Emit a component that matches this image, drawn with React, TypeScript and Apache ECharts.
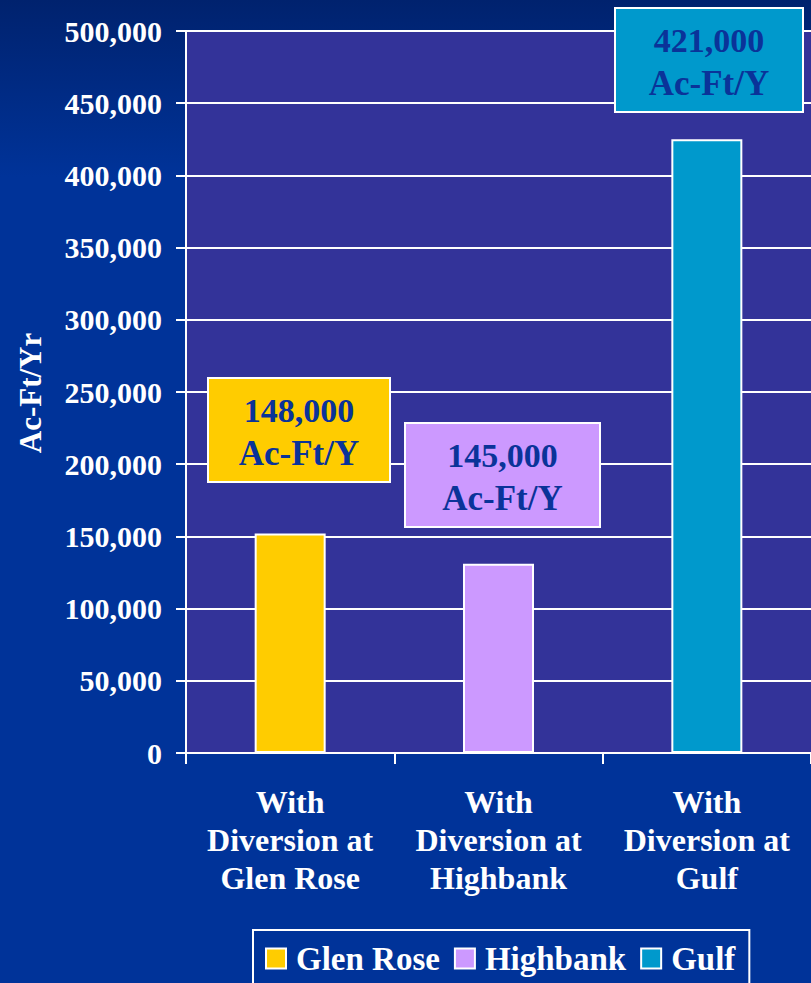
import React, { useEffect, useRef } from "react";
import * as echarts from "echarts";

const categories = [
  "With\nDiversion at\nGlen Rose",
  "With\nDiversion at\nHighbank",
  "With\nDiversion at\nGulf",
];
const seriesNames = ["Glen Rose", "Highbank", "Gulf"];
const barValues = [152000, 131000, 425000];
const calloutValues = ["148,000", "145,000", "421,000"];
const calloutUnit = "Ac-Ft/Y";
const barColors = ["#FFCC00", "#CC99FF", "#0099CC"];
const yTicks = { min: 0, max: 500000, interval: 50000 };
const yAxisTitle = "Ac-Ft/Yr";

const FONT = "'Liberation Serif', 'Times New Roman', serif";

export default function App() {
  const ref = useRef<HTMLDivElement>(null);
  useEffect(() => {
    if (!ref.current) return;
    const chart = echarts.init(ref.current, null, { renderer: "svg" });

    const series = seriesNames.map((name, i) => ({
      name,
      type: "bar",
      stack: "all",
      barWidth: 71,
      data: categories.map((_, j) => (j === i ? barValues[i] : "-")),
      itemStyle: { color: barColors[i], borderColor: "#FFFFFF", borderWidth: 2 },
    }));

    // callout boxes (annotation positions)
    const boxes = [
      { x: 208, y: 378, w: 182, h: 104 },
      { x: 405, y: 423, w: 195, h: 104 },
      { x: 615, y: 8, w: 188, h: 104 },
    ];
    const graphics: any[] = [];
    boxes.forEach((b, i) => {
      graphics.push({
        type: "rect",
        shape: { x: b.x, y: b.y, width: b.w, height: b.h },
        style: { fill: barColors[i], stroke: "#FFFFFF", lineWidth: 2 },
        z: 10,
      });
      graphics.push({
        type: "text",
        x: b.x + b.w / 2,
        y: b.y + 32,
        style: {
          text: calloutValues[i],
          fill: "#0A3399",
          font: `bold 34px ${FONT}`,
          align: "center",
          verticalAlign: "middle",
        },
        z: 11,
      });
      graphics.push({
        type: "text",
        x: b.x + b.w / 2,
        y: b.y + 75,
        style: {
          text: calloutUnit,
          fill: "#0A3399",
          font: `bold 35px ${FONT}`,
          align: "center",
          verticalAlign: "middle",
        },
        z: 11,
      });
    });
    graphics.push({
      type: "text",
      x: 30,
      y: 393,
      rotation: Math.PI / 2,
      style: {
        text: yAxisTitle,
        fill: "#FFFFFF",
        font: `bold 31px ${FONT}`,
        align: "center",
        verticalAlign: "middle",
      },
    });

    chart.setOption({
      animation: false,
      backgroundColor: {
        type: "linear",
        x: 0,
        y: 0,
        x2: 0,
        y2: 1,
        colorStops: [
          { offset: 0, color: "#00226E" },
          { offset: 0.18, color: "#003399" },
          { offset: 1, color: "#003399" },
        ],
      },
      grid: {
        left: 186,
        top: 31,
        width: 629,
        height: 722,
        show: true,
        backgroundColor: "#333399",
        borderWidth: 0,
      },
      xAxis: {
        type: "category",
        data: categories,
        axisLine: { show: true, lineStyle: { color: "#FFFFFF", width: 2 } },
        axisTick: { show: true, length: 11, lineStyle: { color: "#FFFFFF", width: 2 } },
        axisLabel: {
          color: "#FFFFFF",
          fontFamily: FONT,
          fontWeight: "bold",
          fontSize: 32,
          lineHeight: 38,
          margin: 30,
          interval: 0,
          align: "center",
        },
      },
      yAxis: {
        type: "value",
        min: yTicks.min,
        max: yTicks.max,
        interval: yTicks.interval,
        axisLine: { show: true, lineStyle: { color: "#FFFFFF", width: 2 } },
        axisTick: { show: true, length: 10, lineStyle: { color: "#FFFFFF", width: 2 } },
        splitLine: { show: true, lineStyle: { color: "#FFFFFF", width: 2 } },
        axisLabel: {
          color: "#FFFFFF",
          fontFamily: FONT,
          fontWeight: "bold",
          fontSize: 30,
          margin: 24,
          formatter: (v: number) => v.toLocaleString("en-US"),
        },
      },
      legend: {
        data: seriesNames,
        left: 253,
        top: 930,
        width: 560,
        padding: [12, 14, 24, 12],
        itemGap: 14,
        itemWidth: 20,
        itemHeight: 20,
        borderColor: "#FFFFFF",
        borderWidth: 2,
        icon: "rect",
        textStyle: {
          color: "#FFFFFF",
          fontFamily: FONT,
          fontWeight: "bold",
          fontSize: 33,
          padding: [0, 0, 0, 5],
        },
      },
      series,
      graphic: graphics,
    });

    return () => chart.dispose();
  }, []);

  return (
    <div
      ref={ref}
      style={{ position: "fixed", left: 0, top: 0, width: 811, height: 983 }}
    />
  );
}
